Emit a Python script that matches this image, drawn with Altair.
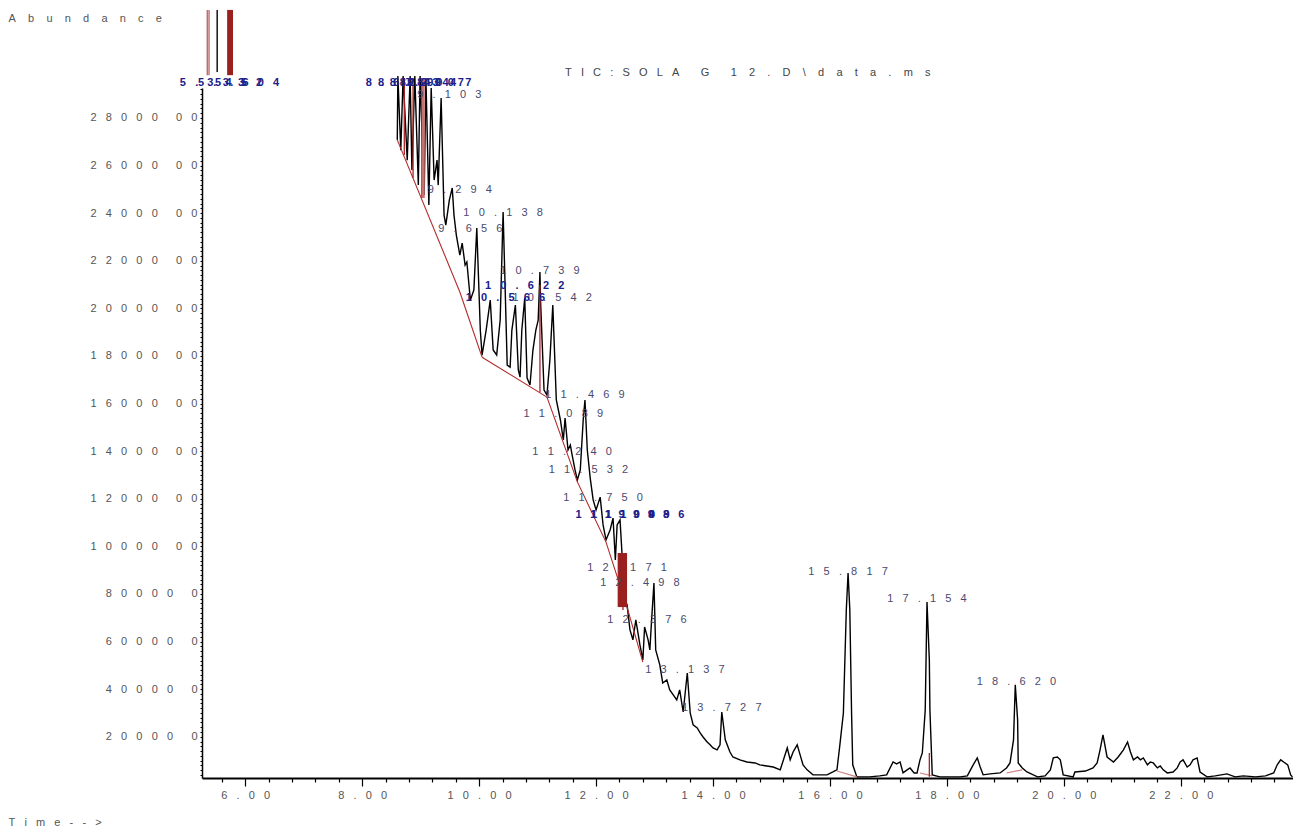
import json
import altair as alt
import pandas as pd

NB = "\u00a0"


def spaced(s, gap=3):
    return (NB * gap).join(list(s))


FONT = "Liberation Sans"

# ---------------- axis ticks / labels ----------------
x_major = [6, 8, 10, 12, 14, 16, 18, 20, 22]
x_major_labels = ["6.00", "8.00", "10.00", "12.00", "14.00", "16.00", "18.00", "20.00", "22.00"]
x_minor = [5.6, 6.0, 6.4, 6.8, 7.2, 7.6, 8.0, 8.4, 8.8, 9.2, 9.6, 10.0, 10.4, 10.8, 11.2,
           11.6, 12.0, 12.4, 12.8, 13.2, 13.6, 14.0, 14.4, 14.8, 15.2, 15.6, 16.0, 16.4,
           16.8, 17.2, 17.6, 18.0, 18.4, 18.8, 19.2, 19.6, 20.0, 20.4, 20.8, 21.2, 21.6,
           22.0, 22.4, 22.8, 23.2, 23.6]
y_major = [200000, 400000, 600000, 800000, 1000000, 1200000, 1400000, 1600000,
           1800000, 2000000, 2200000, 2400000, 2600000, 2800000]
y_major_labels = ["200000", "400000", "600000", "800000", "1000000", "1200000", "1400000",
                  "1600000", "1800000", "2000000", "2200000", "2400000", "2600000", "2800000"]
y_minor = list(range(40000, 2920001, 20000))

# ---------------- chromatogram trace (time min, abundance) ----------------
trace_t = [8.60, 8.61, 8.66, 8.70, 8.77, 8.82, 8.85, 8.90, 8.96, 8.99, 9.06, 9.09, 9.14, 9.18,
           9.23, 9.28, 9.30, 9.35, 9.40, 9.43, 9.49, 9.54, 9.57, 9.61, 9.64, 9.67, 9.71, 9.76,
           9.79, 9.85, 9.91, 9.96, 10.02, 10.05, 10.12, 10.19, 10.24, 10.30, 10.36, 10.41,
           10.48, 10.53, 10.56, 10.62, 10.67, 10.70, 10.73, 10.78, 10.82, 10.87, 10.92, 10.97,
           11.01, 11.04, 11.05, 11.11, 11.16, 11.21, 11.26, 11.32, 11.39, 11.44, 11.47, 11.52,
           11.56, 11.59, 11.64, 11.68, 11.73, 11.78, 11.81, 11.85, 11.90, 11.95, 12.00, 12.07,
           12.12, 12.17, 12.24, 12.29, 12.33, 12.36, 12.41, 12.45, 12.50, 12.53, 12.58, 12.63,
           12.68, 12.75, 12.80, 12.83, 12.89, 12.92, 12.95, 12.99, 13.02, 13.09, 13.14, 13.21,
           13.26, 13.32, 13.38, 13.43, 13.49, 13.56, 13.61, 13.66, 13.73, 13.78, 13.83, 13.90,
           13.95, 14.00, 14.07, 14.12, 14.15, 14.21, 14.29, 14.34, 14.46, 14.58, 14.72, 14.80,
           14.92, 15.03, 15.15, 15.27, 15.32, 15.37, 15.44, 15.49, 15.54, 15.61, 15.71, 15.83,
           15.95, 16.05, 16.12, 16.17, 16.23, 16.28, 16.31, 16.34, 16.37, 16.39, 16.46, 16.68,
           16.85, 16.97, 17.08, 17.14, 17.20, 17.25, 17.32, 17.37, 17.44, 17.49, 17.54, 17.58,
           17.63, 17.66, 17.70, 17.71, 17.75, 17.88, 18.06, 18.23, 18.35, 18.45, 18.52, 18.57,
           18.62, 18.74, 18.91, 19.02, 19.08, 19.14, 19.17, 19.21, 19.22, 19.29, 19.37, 19.55,
           19.68, 19.77, 19.82, 19.89, 19.94, 19.99, 20.16, 20.19, 20.37, 20.50, 20.57, 20.62,
           20.67, 20.74, 20.85, 20.93, 21.02, 21.09, 21.14, 21.19, 21.26, 21.31, 21.36, 21.43,
           21.48, 21.53, 21.60, 21.65, 21.70, 21.77, 21.87, 21.94, 21.99, 22.04, 22.11, 22.16,
           22.21, 22.28, 22.33, 22.45, 22.59, 22.79, 22.93, 23.07, 23.28, 23.45, 23.59, 23.65,
           23.71, 23.76, 23.83, 23.88, 23.91]
trace_v = [2708000, 2976000, 2665000, 2976000, 2623000, 2976000, 2581000, 2976000, 2518000,
           2976000, 2476000, 2968000, 2434000, 2926000, 2539000, 2623000, 2518000, 2884000,
           2392000, 2350000, 2455000, 2506000, 2392000, 2308000, 2266000, 2224000, 2274000,
           2182000, 2195000, 2035000, 2077000, 2338000, 1909000, 1804000, 1909000, 2035000,
           1825000, 1804000, 1951000, 2405000, 1762000, 1753000, 1909000, 2014000, 1741000,
           1711000, 1909000, 2043000, 1707000, 1678000, 1825000, 1909000, 1951000, 2153000,
           2035000, 1657000, 1636000, 1783000, 2014000, 1615000, 1531000, 1447000, 1539000,
           1405000, 1426000, 1384000, 1321000, 1279000, 1321000, 1531000, 1615000, 1405000,
           1287000, 1195000, 1153000, 1207000, 1090000, 1027000, 1069000, 1119000, 943000,
           1090000, 1111000, 943000, 775000, 754000, 649000, 607000, 691000, 586000, 523000,
           661000, 607000, 565000, 691000, 846000, 565000, 502000, 426000, 439000, 397000,
           376000, 355000, 397000, 304000, 468000, 300000, 250000, 237000, 216000, 199000,
           178000, 166000, 153000, 145000, 166000, 304000, 187000, 136000, 115000, 103000,
           94000, 90000, 82000, 77000, 73000, 61000, 153000, 103000, 136000, 166000, 124000,
           82000, 61000, 40000, 40000, 40000, 52000, 61000, 166000, 300000, 733000, 888000,
           733000, 300000, 82000, 31500, 31500, 35500, 40000, 94000, 86000, 94000, 48000,
           61000, 69000, 48000, 48000, 103000, 132000, 313000, 766000, 523000, 313000, 40000,
           31500, 31500, 31500, 35500, 82000, 111000, 73000, 40000, 44000, 48000, 69000, 90000,
           187000, 418000, 271000, 90000, 69000, 52000, 31500, 35500, 61000, 111000, 115000,
           103000, 40000, 31500, 52000, 56000, 69000, 90000, 145000, 208000, 115000, 94000,
           115000, 145000, 178000, 136000, 103000, 115000, 103000, 111000, 82000, 94000, 90000,
           69000, 77000, 61000, 48000, 52000, 69000, 94000, 103000, 73000, 82000, 103000,
           111000, 52000, 31500, 35500, 44000, 31500, 35500, 31500, 35500, 48000, 82000, 103000,
           94000, 82000, 40000, 31500]

# ---------------- integration baselines ----------------
base_seg = [1, 1, 2, 2, 3, 3, 4, 4, 4, 4, 4]
base_t = [8.60, 9.67, 9.67, 10.05, 10.05, 11.16, 11.16, 11.68, 12.17, 12.53, 12.80]
base_v = [2708000, 2069000, 2069000, 1795000, 1795000, 1627000, 1627000, 1271000, 1018000,
          745000, 514000]
small_seg = [1, 1, 2, 2, 3, 3]
small_t = [16.12, 16.46, 17.54, 17.75, 19.02, 19.29]
small_v = [56000, 31500, 48000, 35500, 48000, 61000]

# red drop lines
drop_t = [8.72, 8.87, 9.02, 11.04, 12.38, 12.46, 17.70]
drop_top = [2968000, 2968000, 2960000, 2098000, 972000, 964000, 132000]
drop_bot = [2644000, 2548000, 2464000, 1648000, 745000, 733000, 31500]

# off-scale solvent peaks
sol_pink_t = [5.35, 5.38]
sol_black_t = [5.52]
sol_top = 3254000
sol_pink_bot = 2980000
sol_black_bot = 2993000

# filled integrated peaks
fill_t1 = [5.69, 12.38]
fill_t2 = [5.79, 12.53]
fill_v1 = [2980000, 745000]
fill_v2 = [3254000, 972000]
pink_t1 = [9.02]
pink_t2 = [9.07]
pink_v1 = [2464000]
pink_v2 = [2968000]

# ---------------- peak labels ----------------
lab_text = ["9.103", "9.294", "10.138", "9.656", "10.739", "10.542", "11.469", "11.089",
            "11.240", "11.532", "11.750", "12.171", "12.498", "12.376", "13.137", "13.727",
            "15.817", "17.154", "18.620"]
lab_t = [9.49, 9.67, 10.41, 9.85, 11.04, 11.25, 11.81, 11.44, 11.59, 11.87, 12.12, 12.53,
         12.75, 12.87, 13.52, 14.15, 16.31, 17.66, 19.19]
lab_v = [2884000, 2485000, 2388000, 2321000, 2144000, 2031000, 1623000, 1543000, 1384000,
         1308000, 1190000, 896000, 833000, 678000, 468000, 308000, 880000, 766000, 418000]

blob_text = ["5.333", "5.452", "5.604", "8.624", "8.729", "8.830", "8.947", "9.047",
             "10.622", "10.566", "11.909", "11.949", "11.986"]
blob_t = [5.43, 5.74, 6.03, 8.61, 8.82, 9.02, 9.19, 9.32, 10.78, 10.45, 12.33, 12.58, 12.83]
blob_v = [2934000, 2934000, 2934000, 2934000, 2934000, 2934000, 2934000, 2934000, 2081000,
          2031000, 1119000, 1119000, 1119000]

# ---------------- scales & axes ----------------
XT = json.dumps(x_major)
XL = json.dumps([spaced(s) for s in x_major_labels], ensure_ascii=False)
x_label_expr = f"indexof({XT}, datum.value) >= 0 ? {XL}[indexof({XT}, datum.value)] : ''"


def ylab(s):
    return spaced(s[:5]) + NB * 6 + spaced(s[5:])


YT = json.dumps(y_major)
YL = json.dumps([ylab(s) for s in y_major_labels], ensure_ascii=False)
y_label_expr = f"indexof({YT}, datum.value) >= 0 ? {YL}[indexof({YT}, datum.value)] : ''"

xscale = alt.Scale(domain=[5.26, 23.92], nice=False, zero=False)
yscale = alt.Scale(domain=[26700, 2926000], nice=False, zero=False)

xaxis = alt.Axis(
    values=x_minor, labelExpr=x_label_expr, grid=False,
    tickSize={"condition": {"test": f"indexof({XT}, datum.value) >= 0", "value": 8}, "value": 4},
    tickColor="black", tickWidth=1.2, domainColor="black", domainWidth=2,
    labelFont=FONT, labelFontSize=11, labelColor="#555555", labelPadding=3,
    labelOverlap=False, labelFlush=False, labelBound=False,
    title=spaced("Time-->"), titleFont=FONT, titleFontSize=11, titleFontWeight="normal",
    titleColor="#555555", titleAngle=0, titleAlign="left", titleBaseline="middle",
    titleX=-194, titleY=44,
)
yaxis = alt.Axis(
    values=y_minor, labelExpr=y_label_expr, grid=False, tickSize=2,
    tickColor="black", tickWidth=1, domainColor="black", domainWidth=1.5,
    labelFont=FONT, labelFontSize=11, labelColor="#555555", labelPadding=3,
    labelOverlap=False, labelFlush=False, labelBound=False,
    title=spaced("Abundance", 4), titleFont=FONT, titleFontSize=11, titleFontWeight="normal",
    titleColor="#555555", titleAngle=0, titleAlign="left", titleBaseline="middle",
    titleX=-194, titleY=-70,
)


def X(f):
    return alt.X(f, type="quantitative", scale=xscale, axis=xaxis)


def Y(f):
    return alt.Y(f, type="quantitative", scale=yscale, axis=yaxis)


trace_df = pd.DataFrame({"t": trace_t, "v": trace_v, "i": range(len(trace_t))})
base_df = pd.DataFrame({"t": base_t, "v": base_v, "seg": base_seg})
small_df = pd.DataFrame({"t": small_t, "v": small_v, "seg": small_seg})
drop_df = pd.DataFrame({"t": drop_t, "v": drop_top, "v2": drop_bot})
solp_df = pd.DataFrame({"t": sol_pink_t, "v": [sol_top] * len(sol_pink_t),
                        "v2": [sol_pink_bot] * len(sol_pink_t)})
solb_df = pd.DataFrame({"t": sol_black_t, "v": [sol_top] * len(sol_black_t),
                        "v2": [sol_black_bot] * len(sol_black_t)})
fill_df = pd.DataFrame({"t": fill_t1, "t2": fill_t2, "v": fill_v1, "v2": fill_v2})
pink_df = pd.DataFrame({"t": pink_t1, "t2": pink_t2, "v": pink_v1, "v2": pink_v2})
lab_df = pd.DataFrame({"t": lab_t, "v": lab_v, "label": [spaced(s) for s in lab_text]})
blob_df = pd.DataFrame({"t": blob_t, "v": blob_v, "label": [spaced(s) for s in blob_text]})

trace = alt.Chart(trace_df).mark_line(color="black", strokeWidth=1.4).encode(
    x=X("t"), y=Y("v"), order="i:Q")
base = alt.Chart(base_df).mark_line(color="#b22a2a", strokeWidth=1.1).encode(
    x=X("t"), y=Y("v"), detail="seg:N")
small = alt.Chart(small_df).mark_line(color="#d08080", strokeWidth=1.1).encode(
    x=X("t"), y=Y("v"), detail="seg:N")
drops = alt.Chart(drop_df).mark_rule(color="#a82525", strokeWidth=1.3).encode(
    x=X("t"), y=Y("v"), y2="v2")
solp = alt.Chart(solp_df).mark_rule(color="#b86060", strokeWidth=1.3).encode(
    x=X("t"), y=Y("v"), y2="v2")
solb = alt.Chart(solb_df).mark_rule(color="#222222", strokeWidth=1.6).encode(
    x=X("t"), y=Y("v"), y2="v2")
fills = alt.Chart(fill_df).mark_rect(color="#9a1f1f").encode(
    x=X("t"), x2="t2", y=Y("v"), y2="v2")
pinks = alt.Chart(pink_df).mark_rect(color="#c97070").encode(
    x=X("t"), x2="t2", y=Y("v"), y2="v2")
labels = alt.Chart(lab_df).mark_text(
    font=FONT, fontSize=11, color="#4a4a6e", align="center", baseline="alphabetic").encode(
    x=X("t"), y=Y("v"), text="label:N")
blobs = alt.Chart(blob_df).mark_text(
    font=FONT, fontSize=11, fontWeight="bold", color="#20208a", align="center",
    baseline="alphabetic").encode(x=X("t"), y=Y("v"), text="label:N")

title_text = spaced("TIC:SOLA") + NB * 7 + "G" + NB * 7 + spaced("12.D\\data.ms", 4)

chart = alt.layer(trace, base, small, drops, solp, solb, fills, pinks, labels, blobs).properties(
    width=1091, height=690,
    autosize=alt.AutoSizeParams(type="none"),
    padding={"left": 194, "top": 80, "right": 0, "bottom": 50},
    title=alt.TitleParams(text=title_text, anchor="start", frame="group", offset=11, dx=363,
                          dy=91, font=FONT, fontSize=11, fontWeight="normal", color="#444444",
                          baseline="bottom"),
).configure(background="white").configure_view(stroke=None)

chart.save("out.html", embed_options={"renderer": "svg", "actions": False})
